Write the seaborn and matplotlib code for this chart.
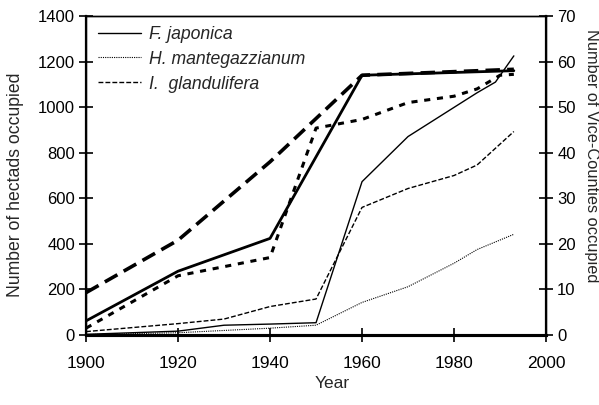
import matplotlib
matplotlib.use("Agg")
import matplotlib.pyplot as plt
import seaborn as sns

# hectads occupied (left axis, thin lines)
fj_years = [1900, 1920, 1930, 1940, 1950, 1960, 1970, 1985, 1989, 1993]
fj_hectads = [3, 17, 43, 48, 54, 673, 871, 1063, 1110, 1225]

hm_years = [1900, 1920, 1930, 1940, 1950, 1960, 1970, 1980, 1985, 1993]
hm_hectads = [2, 10, 20, 30, 43, 143, 212, 315, 375, 442]

ig_years = [1900, 1920, 1930, 1940, 1950, 1960, 1970, 1980, 1985, 1993]
ig_hectads = [15, 50, 70, 125, 158, 560, 643, 700, 746, 893]

# vice-counties occupied (right axis, thick lines)
fj_vc_years = [1900, 1920, 1940, 1960, 1993]
fj_vc = [3.1, 14, 21.2, 57, 58]

hm_vc_years = [1900, 1920, 1940, 1950, 1960, 1970, 1980, 1985, 1990, 1993]
hm_vc = [1.5, 13, 17, 45.4, 47.3, 51, 52.4, 54, 57, 57.2]

ig_vc_years = [1900, 1920, 1940, 1960, 1993]
ig_vc = [9.3, 20.8, 38, 57, 58.3]

labels = ["F. japonica", "H. mantegazzianum", "I.  glandulifera"]

sns.set_style("ticks")
plt.rcParams["font.family"] = ["Liberation Sans", "DejaVu Sans"]
plt.rcParams["font.size"] = 12

fig = plt.figure(figsize=(5.99, 4.05), dpi=100)
ax = fig.add_axes([0.1436, 0.1728, 0.768, 0.7877])
ax2 = ax.twinx()

solid = "-"
dotted = (0, (1, 1))
dashed = (0, (3.5, 1.5))

sns.lineplot(x=fj_years, y=fj_hectads, ax=ax, color="k", lw=1.0, linestyle=solid, label=labels[0])
sns.lineplot(x=hm_years, y=hm_hectads, ax=ax, color="k", lw=0.8, linestyle=dotted, label=labels[1])
sns.lineplot(x=ig_years, y=ig_hectads, ax=ax, color="k", lw=1.0, linestyle=dashed, label=labels[2])

sns.lineplot(x=fj_vc_years, y=fj_vc, ax=ax2, color="k", lw=2.0, linestyle=solid)
sns.lineplot(x=hm_vc_years, y=hm_vc, ax=ax2, color="k", lw=2.2, linestyle=(0, (2, 2.2)))
sns.lineplot(x=ig_vc_years, y=ig_vc, ax=ax2, color="k", lw=2.6, linestyle=(0, (4, 2)))

ax.set_xlim(1900, 2000)
ax.set_ylim(0, 1400)
ax2.set_ylim(0, 70)
ax.set_xticks(range(1900, 2001, 20))
ax.set_yticks(range(0, 1401, 200))
ax2.set_yticks(range(0, 71, 10))

ax.set_xlabel("Year", fontsize=12.5)
ax.set_ylabel("Number of hectads occupied", fontsize=12.7)
ax2.set_ylabel("Number of Vice-Counties occupied", fontsize=11.8, rotation=-90, va="center")
ax.xaxis.set_label_coords(0.535, -0.13)
ax.yaxis.set_label_coords(-0.135, 0.47)
ax2.yaxis.set_label_coords(1.0985, 0.561)

for a in (ax, ax2):
    for s in a.spines.values():
        s.set_visible(True)
        s.set_color("k")
        s.set_linewidth(1.0)
ax.spines["left"].set_linewidth(1.6)
ax2.spines["right"].set_linewidth(1.6)
ax.spines["bottom"].set_linewidth(2.2)
ax2.spines["bottom"].set_linewidth(2.2)

ax.tick_params(axis="both", direction="inout", length=10, width=1.2, colors="k", labelsize=12, pad=3)
ax.tick_params(axis="x", labelsize=12.5, pad=10)
ax2.tick_params(axis="y", direction="inout", length=10, width=1.2, colors="k", labelsize=12, pad=3)

leg = ax.legend(loc="upper left", frameon=False, handlelength=2.45, handletextpad=0.45,
                labelspacing=0.45, borderaxespad=0.15, bbox_to_anchor=(0.005, 1.0),
                prop={"size": 12.7, "style": "italic"})

fig.savefig("out.png", dpi=100)
